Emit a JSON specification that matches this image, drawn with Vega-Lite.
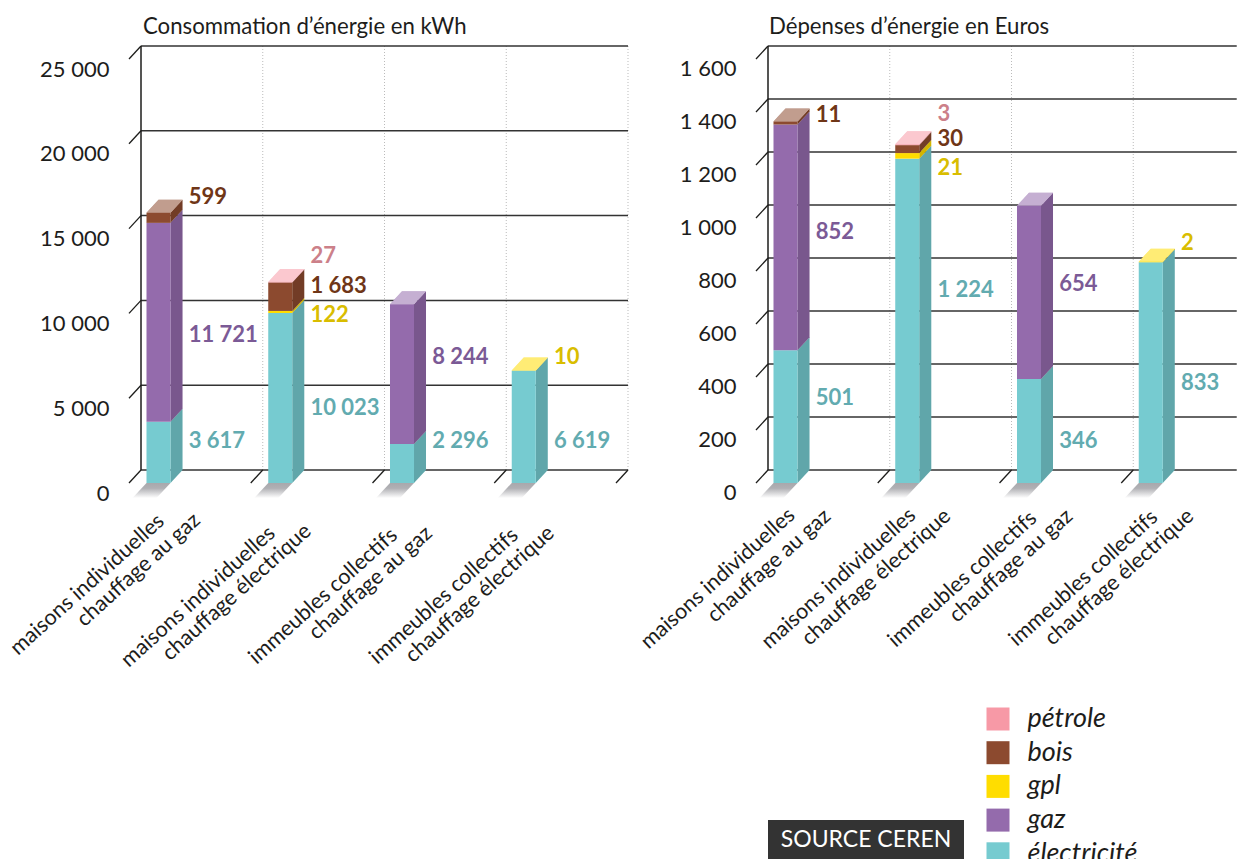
{
"$schema":"https://vega.github.io/schema/vega-lite/v6.json",
"background":"white",
"padding":{"left":6,"top":16,"right":0,"bottom":0},
"config":{"view":{"stroke":null},"font":"Lato","text":{"font":"Lato"},"title":{"font":"Lato"}},
"bounds":"flush",
"spacing":761,
"datasets":{
"kwh":[
{"k":0,"energie":"électricité","value":3617},{"k":0,"energie":"gaz","value":11721},{"k":0,"energie":"bois","value":599},
{"k":1,"energie":"électricité","value":10023},{"k":1,"energie":"gpl","value":122},{"k":1,"energie":"bois","value":1683},{"k":1,"energie":"pétrole","value":27},
{"k":2,"energie":"électricité","value":2296},{"k":2,"energie":"gaz","value":8244},
{"k":3,"energie":"électricité","value":6619},{"k":3,"energie":"gpl","value":10}],
"eur":[
{"k":0,"energie":"électricité","value":501},{"k":0,"energie":"gaz","value":852},{"k":0,"energie":"bois","value":11},
{"k":1,"energie":"électricité","value":1224},{"k":1,"energie":"gpl","value":21},{"k":1,"energie":"bois","value":30},{"k":1,"energie":"pétrole","value":3},
{"k":2,"energie":"électricité","value":392,"label":"346"},{"k":2,"energie":"gaz","value":654},
{"k":3,"energie":"électricité","value":833},{"k":3,"energie":"gpl","value":2}],
"cats":[
{"k":0,"l1":"maisons individuelles","l2":"chauffage au gaz"},
{"k":1,"l1":"maisons individuelles","l2":"chauffage électrique"},
{"k":2,"l1":"immeubles collectifs","l2":"chauffage au gaz"},
{"k":3,"l1":"immeubles collectifs","l2":"chauffage électrique"}],
"gridA":[{"v":0},{"v":5000},{"v":10000},{"v":15000},{"v":20000},{"v":25000}],
"gridB":[{"v":0},{"v":200},{"v":400},{"v":600},{"v":800},{"v":1000},{"v":1200},{"v":1400},{"v":1600}],
"wall":[{"k":0},{"k":1},{"k":2},{"k":3},{"k":4}]
},
"vconcat":[
{"bounds":"flush","spacing":140,"hconcat":[
{"width":487,"height":424,
"title":{"text":"Consommation d’énergie en kWh","anchor":"start","frame":"group","dx":14,"offset":7,"fontSize":22.2,"fontWeight":"normal","color":"#1d1d1b"},
"layer":[
{"data":{"name":"wall"},"transform":[{"filter":"datum.k>0"}],"mark":{"type":"rule","color":"#bbbbbb","strokeWidth":1,"strokeDash":[1,2],"xOffset":12,"x2Offset":12,"yOffset":-13,"y2Offset":-13},
"encoding":{"x":{"field":"k","type":"quantitative","scale":{"domain":[0,4],"nice":false,"zero":false},"axis":null},"y":{"datum":0,"type":"quantitative","scale":{"domain":[0,25000],"nice":false},"axis":{"title":null,"domain":false,"ticks":false,"grid":false,"values":[0,5000,10000,15000,20000,25000],"labelExpr":"replace(format(datum.value,','),',',' ')","labelFontSize":22,"labelColor":"#1d1d1b","labelPadding":20,"labelOffset":10,"labelFont":"Lato"}},"y2":{"datum":25000}}},
{"data":{"name":"gridA"},"mark":{"type":"rule","color":"#333333","strokeWidth":1.5,"xOffset":12,"x2Offset":12,"yOffset":-13,"y2Offset":-13},
"encoding":{"x":{"datum":0,"type":"quantitative","scale":{"domain":[0,4],"nice":false,"zero":false}},"x2":{"datum":4},"y":{"field":"v","type":"quantitative","scale":{"domain":[0,25000],"nice":false}},"y2":{"field":"v"}}},
{"data":{"name":"gridA"},"mark":{"type":"rule","color":"#1d1d1b","strokeWidth":1.3,"x2Offset":12,"y2Offset":-13},
"encoding":{"x":{"datum":0,"type":"quantitative","scale":{"domain":[0,4],"nice":false,"zero":false}},"x2":{"datum":0},"y":{"field":"v","type":"quantitative","scale":{"domain":[0,25000],"nice":false}},"y2":{"field":"v"}}},
{"data":{"values":[{"k":0}]},"mark":{"type":"rule","color":"#1d1d1b","strokeWidth":1.5,"xOffset":12,"yOffset":-13,"y2Offset":-13},
"encoding":{"x":{"field":"k","type":"quantitative","scale":{"domain":[0,4],"nice":false,"zero":false}},"y":{"datum":0,"type":"quantitative","scale":{"domain":[0,25000],"nice":false}},"y2":{"datum":25000}}},
{"data":{"name":"wall"},"transform":[{"filter":"datum.k>0"}],"mark":{"type":"rule","color":"#1d1d1b","strokeWidth":1.3,"x2Offset":12,"y2Offset":-13},
"encoding":{"x":{"field":"k","type":"quantitative","scale":{"domain":[0,4],"nice":false,"zero":false}},"x2":{"field":"k"},"y":{"datum":0,"type":"quantitative","scale":{"domain":[0,25000],"nice":false}},"y2":{"datum":0}}},
{"data":{"name":"cats"},"transform":[{"calculate":"[0,1,2,3]","as":"t"},{"flatten":["t"]},{"calculate":"[datum.k+0.0287,datum.k+0.1437,datum.k+0.2259,datum.k+0.3409][datum.t]","as":"xa"},{"calculate":"[-884,0,0,0][datum.t]","as":"yu"},{"calculate":"[-884,-884,-884,0][datum.t]","as":"yl"}],
"mark":{"type":"area","color":{"gradient":"linear","x1":0,"y1":0,"x2":0,"y2":1,"stops":[{"offset":0,"color":"#a8a8ac"},{"offset":0.35,"color":"#b0b0b4"},{"offset":1,"color":"#ffffff"}]}},
"encoding":{"x":{"field":"xa","type":"quantitative","scale":{"domain":[0,4],"nice":false,"zero":false}},"y":{"field":"yu","type":"quantitative","stack":null,"scale":{"domain":[0,25000],"nice":false}},"y2":{"field":"yl"},"detail":{"field":"k"}}},
{"data":{"name":"kwh"},"transform":[{"calculate":"indexof(['électricité','gaz','gpl','bois','pétrole'],datum.energie)","as":"ord"},{"stack":"value","groupby":["k"],"sort":[{"field":"ord","order":"ascending"}],"as":["y0","y1"]},{"calculate":"[0,1]","as":"t"},{"flatten":["t"]},{"calculate":"datum.k+0.3409+datum.t*0.0986","as":"xa"},{"calculate":"datum.y0+datum.t*766.5","as":"ya"},{"calculate":"datum.y1+datum.t*766.5","as":"yb"}],
"layer":[
{"mark":{"type":"area"},"encoding":{"x":{"field":"xa","type":"quantitative","scale":{"domain":[0,4],"nice":false,"zero":false}},"y":{"field":"ya","type":"quantitative","stack":null,"scale":{"domain":[0,25000],"nice":false}},"y2":{"field":"yb"},"detail":[{"field":"k"}],"color":{"field":"energie","type":"nominal","title":null,"scale":{"domain":["pétrole","bois","gpl","gaz","électricité"],"range":["#f799a6","#8c4a2f","#ffdd00","#946bac","#76cbd0"]}}}},
{"mark":{"type":"area","color":"#000000","opacity":0.18},"encoding":{"x":{"field":"xa","type":"quantitative","scale":{"domain":[0,4],"nice":false,"zero":false}},"y":{"field":"ya","type":"quantitative","stack":null,"scale":{"domain":[0,25000],"nice":false}},"y2":{"field":"yb"},"detail":[{"field":"k"},{"field":"energie"}]}}
]},
{"data":{"name":"kwh"},"transform":[{"calculate":"indexof(['électricité','gaz','gpl','bois','pétrole'],datum.energie)","as":"ord"},{"stack":"value","groupby":["k"],"sort":[{"field":"ord","order":"ascending"}],"as":["y0","y1"]},{"joinaggregate":[{"op":"max","field":"y1","as":"top"}],"groupby":["k"]},{"filter":"datum.y1==datum.top"},{"calculate":"[0,1,2,3]","as":"t"},{"flatten":["t"]},{"calculate":"[datum.k+0.1437,datum.k+0.2423,datum.k+0.3409,datum.k+0.4395][datum.t]","as":"xa"},{"calculate":"datum.top+[0,766.5,766.5,766.5][datum.t]","as":"yu"},{"calculate":"datum.top+[0,0,0,766.5][datum.t]","as":"yl"}],
"layer":[
{"mark":{"type":"area"},"encoding":{"x":{"field":"xa","type":"quantitative","scale":{"domain":[0,4],"nice":false,"zero":false}},"y":{"field":"yu","type":"quantitative","stack":null,"scale":{"domain":[0,25000],"nice":false}},"y2":{"field":"yl"},"detail":{"field":"k"},"color":{"field":"energie","type":"nominal","title":null,"scale":{"domain":["pétrole","bois","gpl","gaz","électricité"],"range":["#f799a6","#8c4a2f","#ffdd00","#946bac","#76cbd0"]}}}},
{"mark":{"type":"area","color":"#ffffff","opacity":0.46},"encoding":{"x":{"field":"xa","type":"quantitative","scale":{"domain":[0,4],"nice":false,"zero":false}},"y":{"field":"yu","type":"quantitative","stack":null,"scale":{"domain":[0,25000],"nice":false}},"y2":{"field":"yl"},"detail":{"field":"k"}}}
]},
{"data":{"name":"kwh"},"transform":[{"calculate":"indexof(['électricité','gaz','gpl','bois','pétrole'],datum.energie)","as":"ord"},{"stack":"value","groupby":["k"],"sort":[{"field":"ord","order":"ascending"}],"as":["y0","y1"]},{"calculate":"datum.k+0.1437","as":"xl"},{"calculate":"datum.k+0.3409","as":"xr"}],
"mark":{"type":"rect"},"encoding":{"x":{"field":"xl","type":"quantitative","scale":{"domain":[0,4],"nice":false,"zero":false}},"x2":{"field":"xr"},"y":{"field":"y0","type":"quantitative","scale":{"domain":[0,25000],"nice":false}},"y2":{"field":"y1"},"color":{"field":"energie","type":"nominal","title":null,"scale":{"domain":["pétrole","bois","gpl","gaz","électricité"],"range":["#f799a6","#8c4a2f","#ffdd00","#946bac","#76cbd0"]},"legend":{"orient":"none","legendX":855.5,"legendY":646.5,"title":null,"symbolType":"square","symbolSize":529,"symbolStrokeWidth":0,"symbolOpacity":1,"labelFontSize":27,"labelFontStyle":"italic","labelFont":"Lato","labelColor":"#1d1d1b","labelOffset":16,"rowPadding":5.7}}}},
{"data":{"name":"kwh"},"transform":[{"calculate":"datum.k+0.49","as":"xt"},{"calculate":"{'électricité0':2476,'gaz0':8726,'bois0':16863,'pétrole1':13384,'bois1':11616,'gpl1':9906,'électricité1':4422,'électricité2':2476,'gaz2':7429,'électricité3':2476,'gpl3':7429}[datum.energie+datum.k]","as":"labelAt"},{"calculate":"replace(format(datum.value,','),',',' ')","as":"lab"}],
"mark":{"type":"text","align":"left","baseline":"middle","fontSize":22,"fontWeight":"bold","font":"Lato"},
"encoding":{"x":{"field":"xt","type":"quantitative","scale":{"domain":[0,4],"nice":false,"zero":false}},"y":{"field":"labelAt","type":"quantitative","scale":{"domain":[0,25000],"nice":false}},"text":{"field":"lab"},"fill":{"field":"energie","type":"nominal","legend":null,"scale":{"domain":["pétrole","bois","gpl","gaz","électricité"],"range":["#cc8089","#6f3617","#d9bd00","#7b5a96","#62abb0"]}}}},
{"data":{"name":"cats"},"transform":[{"calculate":"[0.3,1.211,2.214,3.207][datum.k]","as":"xt"},{"calculate":"[-2358,-3066,-3184,-3184][datum.k]","as":"yt"}],
"mark":{"type":"text","align":"right","baseline":"alphabetic","angle":-42,"fontSize":21.5,"color":"#1d1d1b","font":"Lato"},
"encoding":{"x":{"field":"xt","type":"quantitative","scale":{"domain":[0,4],"nice":false,"zero":false}},"y":{"field":"yt","type":"quantitative","scale":{"domain":[0,25000],"nice":false}},"text":{"field":"l1"}}},
{"data":{"name":"cats"},"transform":[{"calculate":"[0.595,1.507,2.501,3.503][datum.k]","as":"xt"},{"calculate":"[-2299,-2948,-3066,-3066][datum.k]","as":"yt"}],
"mark":{"type":"text","align":"right","baseline":"alphabetic","angle":-42,"fontSize":21.5,"color":"#1d1d1b","font":"Lato"},
"encoding":{"x":{"field":"xt","type":"quantitative","scale":{"domain":[0,4],"nice":false,"zero":false}},"y":{"field":"yt","type":"quantitative","scale":{"domain":[0,25000],"nice":false}},"text":{"field":"l2"}}}
]},
{"width":487,"height":424,
"title":{"text":"Dépenses d’énergie en Euros","anchor":"start","frame":"group","dx":13,"offset":7,"fontSize":22.2,"fontWeight":"normal","color":"#1d1d1b"},
"layer":[
{"data":{"name":"wall"},"transform":[{"filter":"datum.k>0 && datum.k<4"}],"mark":{"type":"rule","color":"#bbbbbb","strokeWidth":1,"strokeDash":[1,2],"xOffset":12,"x2Offset":12,"yOffset":-13,"y2Offset":-13},
"encoding":{"x":{"field":"k","type":"quantitative","scale":{"domain":[0,4],"nice":false,"zero":false},"axis":null},"y":{"datum":0,"type":"quantitative","scale":{"domain":[0,1600],"nice":false},"axis":{"title":null,"domain":false,"ticks":false,"grid":false,"values":[0,200,400,600,800,1000,1200,1400,1600],"labelExpr":"replace(format(datum.value,','),',',' ')","labelFontSize":22,"labelColor":"#1d1d1b","labelPadding":20,"labelOffset":9,"labelFont":"Lato"}},"y2":{"datum":1600}}},
{"data":{"name":"gridB"},"mark":{"type":"rule","color":"#333333","strokeWidth":1.5,"xOffset":12,"x2Offset":12,"yOffset":-13,"y2Offset":-13},
"encoding":{"x":{"datum":0,"type":"quantitative","scale":{"domain":[0,4],"nice":false,"zero":false}},"x2":{"datum":3.85},"y":{"field":"v","type":"quantitative","scale":{"domain":[0,1600],"nice":false}},"y2":{"field":"v"}}},
{"data":{"name":"gridB"},"mark":{"type":"rule","color":"#1d1d1b","strokeWidth":1.3,"x2Offset":12,"y2Offset":-13},
"encoding":{"x":{"datum":0,"type":"quantitative","scale":{"domain":[0,4],"nice":false,"zero":false}},"x2":{"datum":0},"y":{"field":"v","type":"quantitative","scale":{"domain":[0,1600],"nice":false}},"y2":{"field":"v"}}},
{"data":{"values":[{"k":0}]},"mark":{"type":"rule","color":"#1d1d1b","strokeWidth":1.5,"xOffset":12,"yOffset":-13,"y2Offset":-13},
"encoding":{"x":{"field":"k","type":"quantitative","scale":{"domain":[0,4],"nice":false,"zero":false}},"y":{"datum":0,"type":"quantitative","scale":{"domain":[0,1600],"nice":false}},"y2":{"datum":1600}}},
{"data":{"name":"wall"},"transform":[{"filter":"datum.k>0 && datum.k<4"}],"mark":{"type":"rule","color":"#1d1d1b","strokeWidth":1.3,"x2Offset":12,"y2Offset":-13},
"encoding":{"x":{"field":"k","type":"quantitative","scale":{"domain":[0,4],"nice":false,"zero":false}},"x2":{"field":"k"},"y":{"datum":0,"type":"quantitative","scale":{"domain":[0,1600],"nice":false}},"y2":{"datum":0}}},
{"data":{"name":"cats"},"transform":[{"calculate":"[0,1,2,3]","as":"t"},{"flatten":["t"]},{"calculate":"[datum.k+0.0287,datum.k+0.1437,datum.k+0.2259,datum.k+0.3409][datum.t]","as":"xa"},{"calculate":"[-56.6,0,0,0][datum.t]","as":"yu"},{"calculate":"[-56.6,-56.6,-56.6,0][datum.t]","as":"yl"}],
"mark":{"type":"area","color":{"gradient":"linear","x1":0,"y1":0,"x2":0,"y2":1,"stops":[{"offset":0,"color":"#a8a8ac"},{"offset":0.35,"color":"#b0b0b4"},{"offset":1,"color":"#ffffff"}]}},
"encoding":{"x":{"field":"xa","type":"quantitative","scale":{"domain":[0,4],"nice":false,"zero":false}},"y":{"field":"yu","type":"quantitative","stack":null,"scale":{"domain":[0,1600],"nice":false}},"y2":{"field":"yl"},"detail":{"field":"k"}}},
{"data":{"name":"eur"},"transform":[{"calculate":"indexof(['électricité','gaz','gpl','bois','pétrole'],datum.energie)","as":"ord"},{"stack":"value","groupby":["k"],"sort":[{"field":"ord","order":"ascending"}],"as":["y0","y1"]},{"calculate":"[0,1]","as":"t"},{"flatten":["t"]},{"calculate":"datum.k+0.3409+datum.t*0.0986","as":"xa"},{"calculate":"datum.y0+datum.t*49.06","as":"ya"},{"calculate":"datum.y1+datum.t*49.06","as":"yb"}],
"layer":[
{"mark":{"type":"area"},"encoding":{"x":{"field":"xa","type":"quantitative","scale":{"domain":[0,4],"nice":false,"zero":false}},"y":{"field":"ya","type":"quantitative","stack":null,"scale":{"domain":[0,1600],"nice":false}},"y2":{"field":"yb"},"detail":[{"field":"k"}],"color":{"field":"energie","type":"nominal","title":null,"scale":{"domain":["pétrole","bois","gpl","gaz","électricité"],"range":["#f799a6","#8c4a2f","#ffdd00","#946bac","#76cbd0"]}}}},
{"mark":{"type":"area","color":"#000000","opacity":0.18},"encoding":{"x":{"field":"xa","type":"quantitative","scale":{"domain":[0,4],"nice":false,"zero":false}},"y":{"field":"ya","type":"quantitative","stack":null,"scale":{"domain":[0,1600],"nice":false}},"y2":{"field":"yb"},"detail":[{"field":"k"},{"field":"energie"}]}}
]},
{"data":{"name":"eur"},"transform":[{"calculate":"indexof(['électricité','gaz','gpl','bois','pétrole'],datum.energie)","as":"ord"},{"stack":"value","groupby":["k"],"sort":[{"field":"ord","order":"ascending"}],"as":["y0","y1"]},{"joinaggregate":[{"op":"max","field":"y1","as":"top"}],"groupby":["k"]},{"filter":"datum.y1==datum.top"},{"calculate":"[0,1,2,3]","as":"t"},{"flatten":["t"]},{"calculate":"[datum.k+0.1437,datum.k+0.2423,datum.k+0.3409,datum.k+0.4395][datum.t]","as":"xa"},{"calculate":"datum.top+[0,49.06,49.06,49.06][datum.t]","as":"yu"},{"calculate":"datum.top+[0,0,0,49.06][datum.t]","as":"yl"}],
"layer":[
{"mark":{"type":"area"},"encoding":{"x":{"field":"xa","type":"quantitative","scale":{"domain":[0,4],"nice":false,"zero":false}},"y":{"field":"yu","type":"quantitative","stack":null,"scale":{"domain":[0,1600],"nice":false}},"y2":{"field":"yl"},"detail":{"field":"k"},"color":{"field":"energie","type":"nominal","title":null,"scale":{"domain":["pétrole","bois","gpl","gaz","électricité"],"range":["#f799a6","#8c4a2f","#ffdd00","#946bac","#76cbd0"]}}}},
{"mark":{"type":"area","color":"#ffffff","opacity":0.46},"encoding":{"x":{"field":"xa","type":"quantitative","scale":{"domain":[0,4],"nice":false,"zero":false}},"y":{"field":"yu","type":"quantitative","stack":null,"scale":{"domain":[0,1600],"nice":false}},"y2":{"field":"yl"},"detail":{"field":"k"}}}
]},
{"data":{"name":"eur"},"transform":[{"calculate":"indexof(['électricité','gaz','gpl','bois','pétrole'],datum.energie)","as":"ord"},{"stack":"value","groupby":["k"],"sort":[{"field":"ord","order":"ascending"}],"as":["y0","y1"]},{"calculate":"datum.k+0.1437","as":"xl"},{"calculate":"datum.k+0.3409","as":"xr"}],
"mark":{"type":"rect"},"encoding":{"x":{"field":"xl","type":"quantitative","scale":{"domain":[0,4],"nice":false,"zero":false}},"x2":{"field":"xr"},"y":{"field":"y0","type":"quantitative","scale":{"domain":[0,1600],"nice":false}},"y2":{"field":"y1"},"color":{"field":"energie","type":"nominal","title":null,"scale":{"domain":["pétrole","bois","gpl","gaz","électricité"],"range":["#f799a6","#8c4a2f","#ffdd00","#946bac","#76cbd0"]}}}},
{"data":{"name":"eur"},"transform":[{"calculate":"datum.k+0.49","as":"xt"},{"calculate":"{'électricité0':321,'gaz0':947,'bois0':1389,'pétrole1':1392,'bois1':1298,'gpl1':1189,'électricité1':728,'électricité2':158,'gaz2':751,'électricité3':377,'gpl3':906}[datum.energie+datum.k]","as":"labelAt"},{"calculate":"datum.label || replace(format(datum.value,','),',',' ')","as":"lab"}],
"mark":{"type":"text","align":"left","baseline":"middle","fontSize":22,"fontWeight":"bold","font":"Lato"},
"encoding":{"x":{"field":"xt","type":"quantitative","scale":{"domain":[0,4],"nice":false,"zero":false}},"y":{"field":"labelAt","type":"quantitative","scale":{"domain":[0,1600],"nice":false}},"text":{"field":"lab"},"fill":{"field":"energie","type":"nominal","legend":null,"scale":{"domain":["pétrole","bois","gpl","gaz","électricité"],"range":["#cc8089","#6f3617","#d9bd00","#7b5a96","#62abb0"]}}}},
{"data":{"name":"cats"},"transform":[{"calculate":"[0.329,1.322,2.316,3.31][datum.k]","as":"xt"},{"calculate":"[-128,-128,-140,-136][datum.k]","as":"yt"}],
"mark":{"type":"text","align":"right","baseline":"alphabetic","angle":-42,"fontSize":21.5,"color":"#1d1d1b","font":"Lato"},
"encoding":{"x":{"field":"xt","type":"quantitative","scale":{"domain":[0,4],"nice":false,"zero":false}},"y":{"field":"yt","type":"quantitative","scale":{"domain":[0,1600],"nice":false}},"text":{"field":"l1"}}},
{"data":{"name":"cats"},"transform":[{"calculate":"[0.624,1.61,2.612,3.606][datum.k]","as":"xt"},{"calculate":"[-132,-132,-132,-132][datum.k]","as":"yt"}],
"mark":{"type":"text","align":"right","baseline":"alphabetic","angle":-42,"fontSize":21.5,"color":"#1d1d1b","font":"Lato"},
"encoding":{"x":{"field":"xt","type":"quantitative","scale":{"domain":[0,4],"nice":false,"zero":false}},"y":{"field":"yt","type":"quantitative","scale":{"domain":[0,1600],"nice":false}},"text":{"field":"l2"}}}
]}
]},
{"bounds":"flush","spacing":0,"hconcat":[
{"width":638.5,"height":39,"data":{"values":[]},"mark":{"type":"rect","opacity":0},"encoding":{}},
{"width":196,"height":39,"data":{"values":[{"source":"SOURCE CEREN"}]},"layer":[
{"mark":{"type":"rect","color":"#333333"},"encoding":{}},
{"mark":{"type":"text","color":"#ffffff","fontSize":23,"font":"Lato","align":"center","baseline":"middle"},"encoding":{"text":{"field":"source"}}}
]}
]}
]
}
